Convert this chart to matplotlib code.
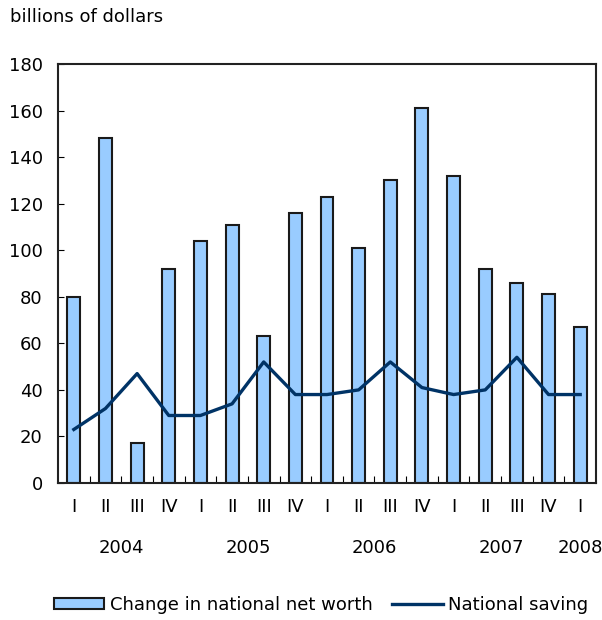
import numpy as np
import matplotlib.pyplot as plt

plt.rcParams['font.family'] = ['DejaVu Sans']

quarters = ['I', 'II', 'III', 'IV', 'I', 'II', 'III', 'IV', 'I', 'II', 'III', 'IV',
            'I', 'II', 'III', 'IV', 'I']
years = ['2004', '2005', '2006', '2007', '2008']
year_pos = [1.5, 5.5, 9.5, 13.5, 16]
net_worth = [80, 148, 17, 92, 104, 111, 63, 116, 123, 101, 130, 161, 132, 92, 86, 81, 67]
saving = [23, 32, 47, 29, 29, 34, 52, 38, 38, 40, 52, 41, 38, 40, 54, 38, 38]

fs = 13
fig = plt.figure(figsize=(6.02, 6.20), dpi=100)
ax = fig.add_axes([58 / 602, 1 - 483 / 620, 538 / 602, 419 / 620])

x = np.arange(len(quarters))
bars = ax.bar(x, net_worth, width=0.41, color='#99ccff', edgecolor='#1a1a1a', linewidth=1.5,
              label='Change in national net worth', zorder=2)
line, = ax.plot(x, saving, color='#003366', linewidth=2.4, label='National saving', zorder=3)

ax.set_xlim(-0.5, len(quarters) - 0.5)
ax.set_ylim(0, 180)
ax.set_yticks(range(0, 181, 20))
ax.tick_params(axis='y', direction='in', length=4, labelsize=fs, pad=11)

ax.set_xticks(np.arange(0.5, len(quarters) - 0.5, 1))
ax.set_xticklabels([])
ax.tick_params(axis='x', direction='in', length=5)
for i, q in enumerate(quarters):
    ax.text(i, -10.5, q, ha='center', va='center', fontsize=fs)
for p, yr in zip(year_pos, years):
    ax.text(p, -28, yr, ha='center', va='center', fontsize=fs)

for s in ax.spines.values():
    s.set_linewidth(1.5)
    s.set_color('#222222')

fig.text(10 / 602, 1 - 17 / 620, 'billions of dollars', ha='left', va='center', fontsize=fs)

fig.legend(handles=[bars, line], loc='center', bbox_to_anchor=(321 / 602, 1 - 605 / 620),
           ncol=2, frameon=False, fontsize=fs, handlelength=2.8, handleheight=0.5,
           columnspacing=1.1, handletextpad=0.3, borderpad=0, borderaxespad=0)

fig.savefig('out.png', dpi=100)
